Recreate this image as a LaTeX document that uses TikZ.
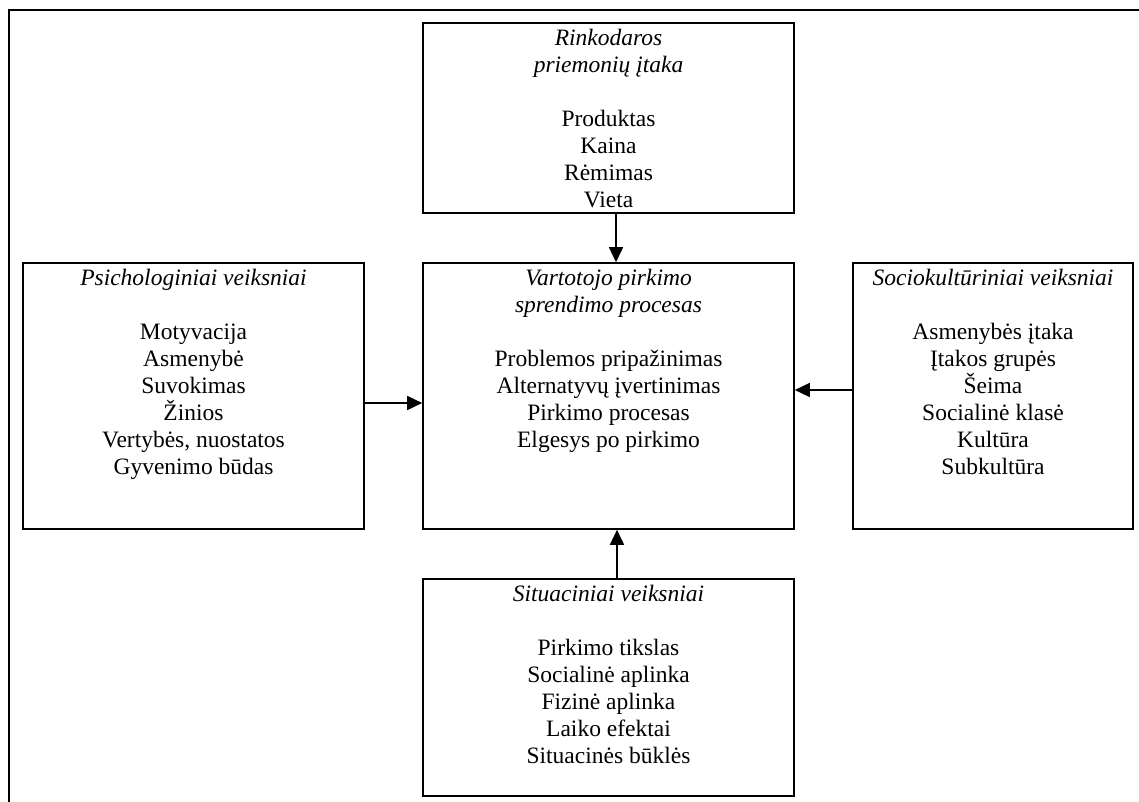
\documentclass[tikz,border=0pt]{standalone}
\usepackage{fontspec}
\setmainfont{Liberation Serif}
\usetikzlibrary{arrows.meta}
\begin{document}
\begin{tikzpicture}[x=1pt,y=-1pt,
  box/.style={draw,line width=1.6pt,rectangle,inner sep=0pt},
  txt/.style={anchor=north,align=center,inner sep=0pt,font=\fontsize{23.5}{27}\selectfont},
  arr/.style={line width=1.6pt,-{Triangle[length=15pt,width=14pt]}},
  frameline/.style={line width=1.8pt}]
\useasboundingbox (0,0) rectangle (1139,802);
\draw[frameline] (9,802) -- (9,10) -- (1139,10);
% boxes
\node[box,minimum width=371pt,minimum height=190pt] (T) at (608.5,118) {};
\node[box,minimum width=371pt,minimum height=266pt] (C) at (608.5,396) {};
\node[box,minimum width=341pt,minimum height=266pt] (L) at (193.5,396) {};
\node[box,minimum width=280pt,minimum height=266pt] (R) at (993,396) {};
\node[box,minimum width=371pt,minimum height=217pt] (B) at (608.5,687.5) {};
% texts
\node[txt] (Tt) at ([yshift=-4pt]T.north) {\strut\itshape Rinkodaros\\\itshape priemonių įtaka\\[27pt]Produktas\\Kaina\\Rėmimas\\Vieta};
\node[txt] (Ct) at ([yshift=-4pt]C.north) {\strut\itshape Vartotojo pirkimo\\\itshape sprendimo procesas\\[27pt]Problemos pripažinimas\\Alternatyvų įvertinimas\\Pirkimo procesas\\Elgesys po pirkimo};
\node[txt] (Lt) at ([yshift=-4pt]L.north) {\strut\itshape Psichologiniai veiksniai\\[27pt]Motyvacija\\Asmenybė\\Suvokimas\\Žinios\\Vertybės, nuostatos\\Gyvenimo būdas};
\node[txt] (Rt) at ([yshift=-4pt]R.north) {\strut\itshape Sociokultūriniai veiksniai\\[27pt]Asmenybės įtaka\\Įtakos grupės\\Šeima\\Socialinė klasė\\Kultūra\\Subkultūra};
\node[txt] (Bt) at ([yshift=-4pt]B.north) {\strut\itshape Situaciniai veiksniai\\[27pt]Pirkimo tikslas\\Socialinė aplinka\\Fizinė aplinka\\Laiko efektai\\Situacinės būklės};
% arrows
\draw[arr] ([xshift=7.5pt]T.south) -- ([xshift=7.5pt]C.north);
\draw[arr] ([xshift=8.5pt]B.north) -- ([xshift=8.5pt]C.south);
\draw[arr] ([yshift=-7pt]L.east) -- ([yshift=-7pt]C.west);
\draw[arr] ([yshift=6pt]R.west) -- ([yshift=6pt]C.east);
\end{tikzpicture}
\end{document}
